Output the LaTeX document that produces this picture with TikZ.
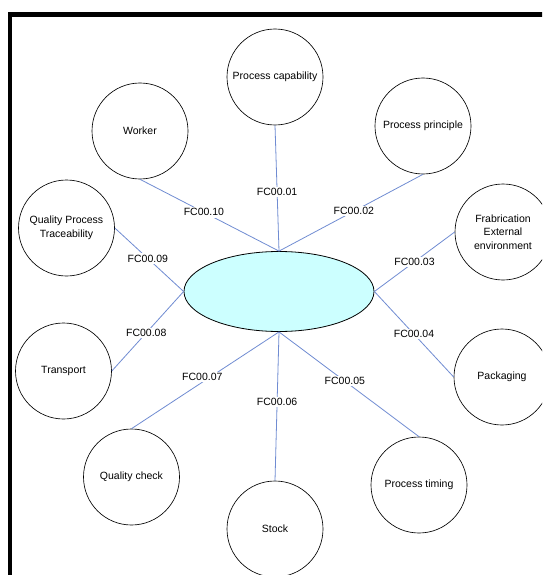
\documentclass[tikz,border=0pt]{standalone}
\usepackage{fontspec}
\setmainfont{Liberation Sans}
\usetikzlibrary{shapes.geometric}
\definecolor{linkblue}{RGB}{112,140,210}
\definecolor{hubfill}{RGB}{204,255,255}
\begin{document}
\begin{tikzpicture}[x=1pt,y=-1pt,
  factor/.style={circle,draw=black,line width=0.65pt,minimum size=96pt,inner sep=0pt,align=center,font=\fontsize{10.5}{13.5}\selectfont},
  hub/.style={ellipse,draw=black,line width=0.8pt,fill=hubfill,minimum width=190pt,minimum height=80pt,inner sep=0pt},
  link/.style={draw=linkblue,line width=0.8pt},
  lab/.style={fill=white,inner sep=1.5pt,font=\fontsize{10.5}{12}\selectfont}]
\clip (0,0) rectangle (542,575);
\fill[white] (0,0) rectangle (542,575);
\draw[line width=4.2pt] (10.3,580) -- (10.3,14.5) -- (550,14.5);

\node[hub] (e) at (279,291.5) {};
\node[factor] (c1) at (275,77) {Process capability};
\node[factor] (c2) at (423,126) {Process principle};
\node[factor] (c3) at (503,232) {Frabrication\\External\\environment};
\node[factor] (c4) at (502,377) {Packaging};
\node[factor] (c5) at (419,485) {Process timing};
\node[factor] (c6) at (275,529) {Stock};
\node[factor] (c7) at (131.5,477) {Quality check};
\node[factor] (c8) at (63.5,371) {Transport};
\node[factor] (c9) at (66.5,228) {Quality Process\\Traceability};
\node[factor] (c10) at (140,131) {Worker};

\draw[link] (e.north) -- node[lab,pos=0.47] {FC00.01} (c1.south);
\draw[link] (e.north) -- node[lab,pos=0.52] {FC00.02} (c2.south);
\draw[link] (e.east) -- node[lab,pos=0.5] {FC00.03} (c3.west);
\draw[link] (e.east) -- node[lab,pos=0.5] {FC00.04} (c4.west);
\draw[link] (e.south) -- node[lab,pos=0.47] {FC00.05} (c5.north);
\draw[link] (e.south) -- node[lab,pos=0.47] {FC00.06} (c6.north);
\draw[link] (e.south) -- node[lab,pos=0.52,yshift=5pt] {FC00.07} (c7.north);
\draw[link] (e.west) -- node[lab,pos=0.52] {FC00.08} (c8.east);
\draw[link] (e.west) -- node[lab,pos=0.52] {FC00.09} (c9.east);
\draw[link] (e.north) -- node[lab,pos=0.54] {FC00.10} (c10.south);
\end{tikzpicture}
\end{document}
